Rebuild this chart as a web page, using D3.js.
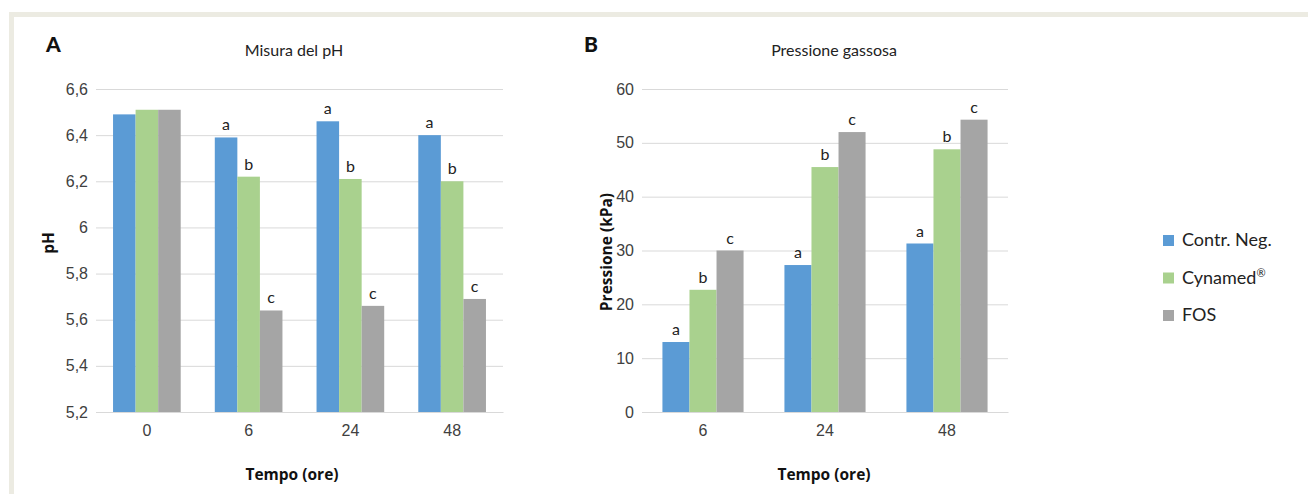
<!DOCTYPE html>
<html>
<head>
<meta charset="utf-8">
<title>pH e pressione gassosa</title>
<script src="https://cdn.jsdelivr.net/npm/d3@7"></script>
<style>
  body { margin: 0; background: #fff; }
  svg { display: block; font-family: Lato, "Open Sans", sans-serif; }
  .tick text { fill: #404040; font-size: 16px; }
  .grid line { stroke: #d9d9d9; }
  .grid path { display: none; }
  .lbl { fill: #222; font-size: 16px; text-anchor: middle; }
  .title { fill: #222; font-size: 16px; text-anchor: middle; }
  .axtitle { fill: #111; font-family: "Open Sans", sans-serif; font-size: 15.5px; font-weight: bold; text-anchor: middle; }
  .panel { fill: #111; font-size: 21px; font-weight: 900; }
</style>
</head>
<body>
<script>
  var width = 1308, height = 494;

  var series = ["Contr. Neg.", "Cynamed", "FOS"];
  var colors = ["#5b9bd5", "#a9d18e", "#a5a5a5"];

  // grafico A
  var timesA = ["0", "6", "24", "48"];
  var phCtrl = [6.49, 6.39, 6.46, 6.40];
  var phCyn = [6.51, 6.22, 6.21, 6.20];
  var phFos = [6.51, 5.64, 5.66, 5.69];
  var lettersA = [["", "", ""], ["a", "b", "c"], ["a", "b", "c"], ["a", "b", "c"]];
  var ticksA = [5.2, 5.4, 5.6, 5.8, 6, 6.2, 6.4, 6.6];

  // grafico B
  var timesB = ["6", "24", "48"];
  var prCtrl = [13.0, 27.3, 31.3];
  var prCyn = [22.7, 45.5, 48.8];
  var prFos = [30.0, 52.0, 54.3];
  var lettersB = [["a", "b", "c"], ["a", "b", "c"], ["a", "b", "c"]];
  var ticksB = [0, 10, 20, 30, 40, 50, 60];

  var svg = d3.select("body").append("svg")
    .attr("width", width)
    .attr("height", height);

  // cornice beige
  svg.append("rect").attr("x", 9).attr("y", 12).attr("width", width - 9).attr("height", 5).attr("fill", "#ecebe2");
  svg.append("rect").attr("x", 9).attr("y", 12).attr("width", 5).attr("height", height - 12).attr("fill", "#ecebe2");

  function drawChart(opt) {
    var x = d3.scaleBand().domain(opt.times).range([opt.x0, opt.x1]).paddingInner(0.335).paddingOuter(0.1675);
    var y = d3.scaleLinear().domain(opt.domain).range([opt.yBottom, opt.yTop]);
    var sub = d3.scaleBand().domain(d3.range(3)).range([0, x.bandwidth()]);

    var g = svg.append("g");

    g.append("g")
      .attr("class", "grid")
      .attr("transform", "translate(" + opt.x0 + ",0)")
      .call(d3.axisLeft(y).tickValues(opt.ticks).tickSize(-(opt.x1 - opt.x0)).tickPadding(8)
        .tickFormat(opt.fmt));

    var rows = opt.times.map(function(t, i) {
      return opt.values.map(function(v, j) { return { t: t, j: j, v: v[i], l: opt.letters[i][j] }; });
    });
    var flat = [].concat.apply([], rows);

    g.selectAll("rect.bar")
      .data(flat)
      .enter()
      .append("rect")
      .attr("class", "bar")
      .attr("x", function(d) { return x(d.t) + sub(d.j); })
      .attr("width", sub.bandwidth())
      .attr("y", function(d) { return y(d.v); })
      .attr("height", function(d) { return y(opt.domain[0]) - y(d.v); })
      .attr("fill", function(d) { return colors[d.j]; });

    g.selectAll("text.lbl")
      .data(flat.filter(function(d) { return d.l; }))
      .enter()
      .append("text")
      .attr("class", "lbl")
      .attr("x", function(d) { return x(d.t) + sub(d.j) + sub.bandwidth() / 2; })
      .attr("y", function(d) { return y(d.v) - 7; })
      .text(function(d) { return d.l; });

    var xa = g.append("g")
      .attr("transform", "translate(0," + opt.yBottom + ")")
      .call(d3.axisBottom(x).tickSize(0).tickPadding(13));
    xa.select(".domain").attr("stroke", "#d9d9d9");

    g.append("text").attr("class", "axtitle")
      .attr("x", opt.xtX).attr("y", 480).text("Tempo (ore)");
    g.append("text").attr("class", "title")
      .attr("x", opt.titleX).attr("y", 56).text(opt.title);
    g.append("text").attr("class", "panel")
      .attr("x", opt.panelX).attr("y", 52).text(opt.panel);
    g.append("text").attr("class", "axtitle")
      .attr("transform", "translate(" + opt.ytX + "," + opt.ytY + ") rotate(-90)")
      .text(opt.ytitle);
  }

  var comma = function(d) { return String(d).replace(".", ","); };

  drawChart({
    times: timesA, values: [phCtrl, phCyn, phFos], letters: lettersA,
    domain: [5.2, 6.6], ticks: ticksA, fmt: comma,
    x0: 96, x1: 503, yTop: 89, yBottom: 412,
    title: "Misura del pH", titleX: 294, xtX: 292, panel: "A", panelX: 46,
    ytitle: "pH", ytX: 54, ytY: 243
  });

  drawChart({
    times: timesB, values: [prCtrl, prCyn, prFos], letters: lettersB,
    domain: [0, 60], ticks: ticksB, fmt: d3.format("d"),
    x0: 642, x1: 1008, yTop: 89, yBottom: 412,
    title: "Pressione gassosa", titleX: 834, xtX: 824, panel: "B", panelX: 584,
    ytitle: "Pressione (kPa)", ytX: 612, ytY: 252
  });

  // legenda
  var leg = svg.append("g").attr("transform", "translate(1163,246)");
  series.forEach(function(s, i) {
    var row = leg.append("g").attr("transform", "translate(0," + (i * 37.5) + ")");
    row.append("rect").attr("x", 0).attr("y", -11).attr("width", 11).attr("height", 11).attr("fill", colors[i]);
    var t = row.append("text").attr("x", 19).attr("y", 0).attr("font-size", 18).attr("fill", "#222").text(s);
    if (i === 1) t.append("tspan").attr("font-size", 11).attr("dy", -7).text("®");
  });
</script>
</body>
</html>
